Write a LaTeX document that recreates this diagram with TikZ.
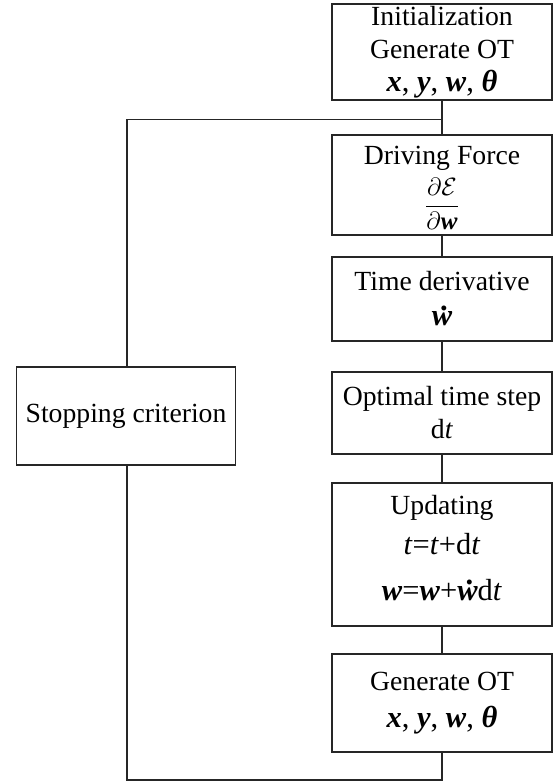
\documentclass[tikz,border=0pt]{standalone}
\usepackage{fix-cm}
\usepackage{amsmath}
\usepackage{fontspec}
\setmainfont{Liberation Serif}
\newcommand{\bv}[1]{\textbf{\textit{#1}}}
\newcommand{\wdot}{\setbox0\hbox{\bv{w}}\rlap{\bv{w}}\hbox to\wd0{\hss\kern.12em\raisebox{0.5em}{\textbf{.}}\hss}}
\newcommand{\mth}{\fontsize{30.5}{36}\selectfont}
\tikzset{
  box/.style={draw=black!85, line width=1.2pt, minimum width=220pt, align=center, inner sep=0pt,
    font=\fontsize{27.7}{33}\selectfont},
  txt/.style={inner sep=0pt, font=\fontsize{27.7}{33}\selectfont},
  link/.style={draw=black!85, line width=1.2pt}
}
\begin{document}
\begin{tikzpicture}[x=1pt,y=-1pt]
\useasboundingbox (0,0) rectangle (553,783);
\fill[white] (0,0) rectangle (553,783);
\node[box, minimum height=96pt] (init) at (442,52) {Initialization\\Generate OT\\{\mth\bv{x}, \bv{y}, \bv{w}, \bv{θ}}};
\node[box, minimum height=100pt] (drive) at (442,185) {};
\node[txt, anchor=base] (drivet) at (442,165) {Driving Force};
\node[txt, font=\fontsize{25}{30}\selectfont] (drivef) at (442,204) {$\dfrac{\partial\mathcal{E}}{\partial\text{\bv{w}}}$};
\node[box, minimum height=84pt] (deriv) at (442,299) {Time derivative\\[2pt]{\mth\wdot}};
\node[box, minimum height=82pt] (opt) at (442,413) {Optimal time step\\d\textit{t}};
\node[box, minimum height=143pt] (upd) at (442,554.5) {Updating\\[7pt]{\mth\textit{t}=\textit{t}+d\textit{t}}\\[13pt]{\mth\bv{w}=\bv{w}+\wdot d\textit{t}\rule[-14pt]{0pt}{0pt}}};
\node[box, minimum height=98pt] (gen) at (442,703) {Generate OT\\[4pt]{\mth\bv{x}, \bv{y}, \bv{w}, \bv{θ}}};
\node[box, minimum width=219pt, minimum height=98pt] (stop) at (126,416) {Stopping criterion};
\coordinate (jt) at (442,119.5);
\coordinate (lt) at (127,119.5);
\coordinate (lb) at (127,780);
\coordinate (rb) at (442,780);
\draw[link] (init) -- (drive);
\draw[link] (drive) -- (deriv);
\draw[link] (deriv) -- (opt);
\draw[link] (opt) -- (upd);
\draw[link] (upd) -- (gen);
\draw[link] (jt) -- (lt) -- (stop.north -| lt);
\draw[link] (stop.south -| lb) -- (lb) -- (rb) -- (gen.south);
\end{tikzpicture}
\end{document}
